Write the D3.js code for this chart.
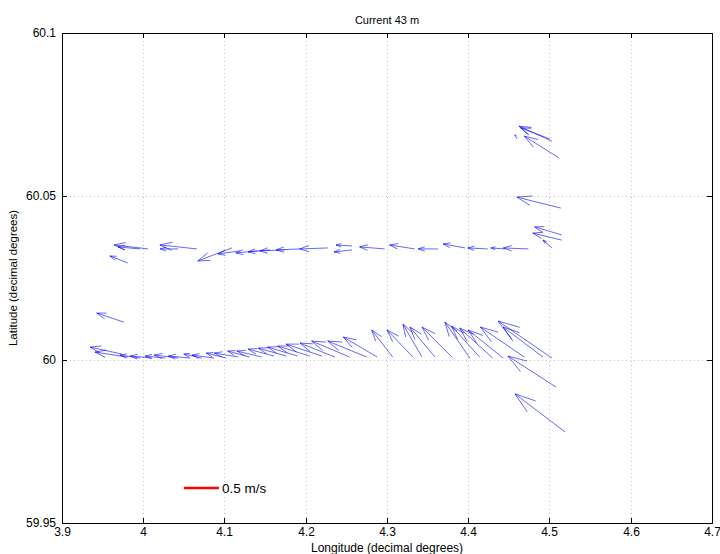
<!DOCTYPE html>
<html>
<head>
<meta charset="utf-8">
<script src="https://cdn.jsdelivr.net/npm/d3@7"></script>
<style>
  body { margin: 0; background: #fff; }
  svg { font-family: "Liberation Sans", Arial, sans-serif; }
</style>
</head>
<body>
<div id="chart"></div>
<script>
// current vectors: tail position (lon, lat) and components u (east), v (north) in m/s
const lon = [
  // lower track
  3.974, 3.981, 3.996, 4.011, 4.027, 4.043, 4.058, 4.072, 4.087, 4.102,
  4.117, 4.131, 4.146, 4.161, 4.176, 4.190, 4.205, 4.220, 4.236, 4.254,
  4.275, 4.288, 4.307, 4.332, 4.343, 4.359, 4.380, 4.402, 4.414, 4.430,
  4.443, 4.469, 4.492, 4.503, 4.508, 4.519,
  // isolated
  3.976,
  // upper track
  4.006, 3.996, 3.981, 4.066, 4.043, 4.109, 4.119, 4.141, 4.156, 4.174,
  4.193, 4.227, 4.257, 4.257, 4.297, 4.334, 4.363, 4.396, 4.424, 4.445,
  4.474,
  // east column
  4.503, 4.500, 4.512, 4.460, 4.514, 4.515, 4.515, 4.503
];
const lat = [
  60.0017, 60.0008, 60.0005, 60.0005, 60.0005, 60.0005, 60.0005, 60.0005, 60.0005, 60.0005,
  60.0008, 60.0008, 60.0008, 60.0011, 60.0011, 60.0011, 60.0011, 60.0011, 60.0008, 60.0008,
  60.0008, 60.0008, 60.0008, 60.0008, 60.0008, 60.0008, 60.0008, 60.0005, 60.0008, 60.0005,
  60.0005, 60.0008, 60.0008, 60.0005, 59.9916, 59.9779,
  60.0115,
  60.0339, 60.0339, 60.0296, 60.0339, 60.0339, 60.0342, 60.0333, 60.0333, 60.0336, 60.0336,
  60.0339, 60.0342, 60.0348, 60.0336, 60.0339, 60.0339, 60.0339, 60.0342, 60.0339, 60.0339,
  60.0339,
  60.0669, 60.0676, 60.0617, 60.0676, 60.0464, 60.0382, 60.0366, 60.0342
];
const u = [
  -0.457, -0.471, -0.286, -0.314, -0.286, -0.343, -0.314, -0.257, -0.314, -0.286,
  -0.343, -0.314, -0.357, -0.371, -0.400, -0.429, -0.457, -0.514, -0.500, -0.543,
  -0.557, -0.486, -0.300, -0.371, -0.271, -0.357, -0.429, -0.357, -0.400, -0.471,
  -0.500, -0.629, -0.571, -0.771, -0.686, -0.714,
  -0.386,
  -0.486, -0.314, -0.257, -0.529, -0.257, -0.486, -0.314, -0.314, -0.314, -0.357,
  -0.343, -0.400, -0.229, -0.257, -0.357, -0.357, -0.286, -0.314, -0.286, -0.200,
  -0.357,
  -0.471, -0.414, -0.500, -0.029, -0.629, -0.386, -0.414, -0.129
];
const v = [
  0.100, 0.071, 0.043, 0.029, 0.029, 0.043, 0.029, 0.057, 0.043, 0.071,
  0.057, 0.086, 0.086, 0.100, 0.114, 0.129, 0.143, 0.171, 0.200, 0.229,
  0.229, 0.286, 0.386, 0.386, 0.471, 0.429, 0.429, 0.514, 0.443, 0.429,
  0.400, 0.429, 0.429, 0.529, 0.443, 0.543,
  0.129,
  0.057, 0.029, 0.100, 0.057, 0.000, -0.186, -0.043, -0.029, -0.029, -0.014,
  -0.014, -0.014, 0.014, -0.029, 0.029, 0.057, 0.000, 0.057, 0.014, 0.014,
  0.014,
  0.214, 0.157, 0.314, 0.057, 0.157, 0.114, 0.100, 0.114
];

const xTicks = [3.9, 4, 4.1, 4.2, 4.3, 4.4, 4.5, 4.6, 4.7];
const yTicks = [59.95, 60, 60.05, 60.1];

// reference vector
const refSpeed = 0.5;
const refLon = 4.05;
const refLat = 59.9607;
const refLabel = "0.5 m/s";

const title = "Current 43 m";
const xLabel = "Longitude (decimal degrees)";
const yLabel = "Latitude (decimal degrees)";

const width = 720, height = 554;
const margin = { top: 33, right: 8, bottom: 31, left: 62 };

const x = d3.scaleLinear().domain([3.9, 4.7]).range([margin.left, width - margin.right]);
const y = d3.scaleLinear().domain([59.95, 60.1]).range([height - margin.bottom, margin.top]);
// arrow length in pixels per m/s
const len = d3.scaleLinear().domain([0, 0.5]).range([0, 35]);

const svg = d3.select("#chart").append("svg")
  .attr("width", width)
  .attr("height", height);

// grid
const gGrid = svg.append("g")
  .attr("stroke", "#a8a8a8")
  .attr("stroke-width", 0.7)
  .attr("stroke-dasharray", "1,3");
gGrid.selectAll(".vx")
  .data(xTicks.slice(1, -1))
  .join("line")
  .attr("x1", (d) => Math.round(x(d)) + 0.5)
  .attr("x2", (d) => Math.round(x(d)) + 0.5)
  .attr("y1", y.range()[1])
  .attr("y2", y.range()[0]);
gGrid.selectAll(".hy")
  .data(yTicks.slice(1, -1))
  .join("line")
  .attr("y1", (d) => Math.round(y(d)) + 0.5)
  .attr("y2", (d) => Math.round(y(d)) + 0.5)
  .attr("x1", x.range()[0])
  .attr("x2", x.range()[1]);

// quiver arrows
const alpha = 0.33, beta = 0.33;
const vectors = lon.map((d, i) => ({ lon: d, lat: lat[i], u: u[i], v: v[i] }));

function arrowPath(d) {
  const x0 = x(d.lon), y0 = y(d.lat);
  const dx = Math.sign(d.u) * len(Math.abs(d.u));
  const dy = -Math.sign(d.v) * len(Math.abs(d.v));
  const tx = x0 + dx, ty = y0 + dy;
  const h1x = tx - alpha * (dx + beta * dy), h1y = ty - alpha * (dy - beta * dx);
  const h2x = tx - alpha * (dx - beta * dy), h2y = ty - alpha * (dy + beta * dx);
  return `M${x0},${y0}L${tx},${ty}M${h1x},${h1y}L${tx},${ty}L${h2x},${h2y}`;
}

svg.append("g")
  .attr("fill", "none")
  .attr("stroke", "#0000ff")
  .attr("stroke-width", 0.8)
  .attr("stroke-opacity", 0.75)
  .selectAll("path")
  .data(vectors)
  .join("path")
  .attr("d", arrowPath);

// reference vector
svg.append("line")
  .attr("x1", x(refLon))
  .attr("x2", x(refLon) + len(refSpeed))
  .attr("y1", y(refLat))
  .attr("y2", y(refLat))
  .attr("stroke", "#ff0000")
  .attr("stroke-width", 2.5);
svg.append("text")
  .attr("x", x(refLon) + len(refSpeed) + 3)
  .attr("y", y(refLat) + 5)
  .attr("font-size", 13.5)
  .text(refLabel);

// axes box with inward ticks on all sides
const gAxes = svg.append("g").attr("font-size", 12);
const tickLen = 5;
gAxes.append("rect")
  .attr("x", x.range()[0] + 0.5)
  .attr("y", y.range()[1] + 0.5)
  .attr("width", x.range()[1] - x.range()[0])
  .attr("height", y.range()[0] - y.range()[1])
  .attr("fill", "none")
  .attr("stroke", "#000")
  .attr("stroke-width", 1);

const gxt = gAxes.selectAll(".xt").data(xTicks).join("g")
  .attr("transform", (d) => `translate(${Math.round(x(d)) + 0.5},0)`);
gxt.append("line")
  .attr("y1", y.range()[0]).attr("y2", y.range()[0] - tickLen)
  .attr("stroke", "#000");
gxt.append("line")
  .attr("y1", y.range()[1]).attr("y2", y.range()[1] + tickLen)
  .attr("stroke", "#000");
gxt.append("text")
  .attr("y", y.range()[0] + 13)
  .attr("text-anchor", "middle")
  .text((d) => d3.format("")(d));

const gyt = gAxes.selectAll(".yt").data(yTicks).join("g")
  .attr("transform", (d) => `translate(0,${Math.round(y(d)) + 0.5})`);
gyt.append("line")
  .attr("x1", x.range()[0]).attr("x2", x.range()[0] + tickLen)
  .attr("stroke", "#000");
gyt.append("line")
  .attr("x1", x.range()[1]).attr("x2", x.range()[1] - tickLen)
  .attr("stroke", "#000");
gyt.append("text")
  .attr("x", x.range()[0] - 6)
  .attr("dy", "0.32em")
  .attr("text-anchor", "end")
  .text((d) => d3.format("")(d));

// titles
svg.append("text")
  .attr("x", (x.range()[0] + x.range()[1]) / 2)
  .attr("y", 24)
  .attr("text-anchor", "middle")
  .attr("font-size", 11)
  .text(title);
svg.append("text")
  .attr("x", (x.range()[0] + x.range()[1]) / 2)
  .attr("y", 552)
  .attr("text-anchor", "middle")
  .attr("font-size", 12)
  .text(xLabel);
svg.append("text")
  .attr("transform", `translate(17,${(y.range()[0] + y.range()[1]) / 2}) rotate(-90)`)
  .attr("text-anchor", "middle")
  .attr("font-size", 11.5)
  .text(yLabel);
</script>
</body>
</html>
